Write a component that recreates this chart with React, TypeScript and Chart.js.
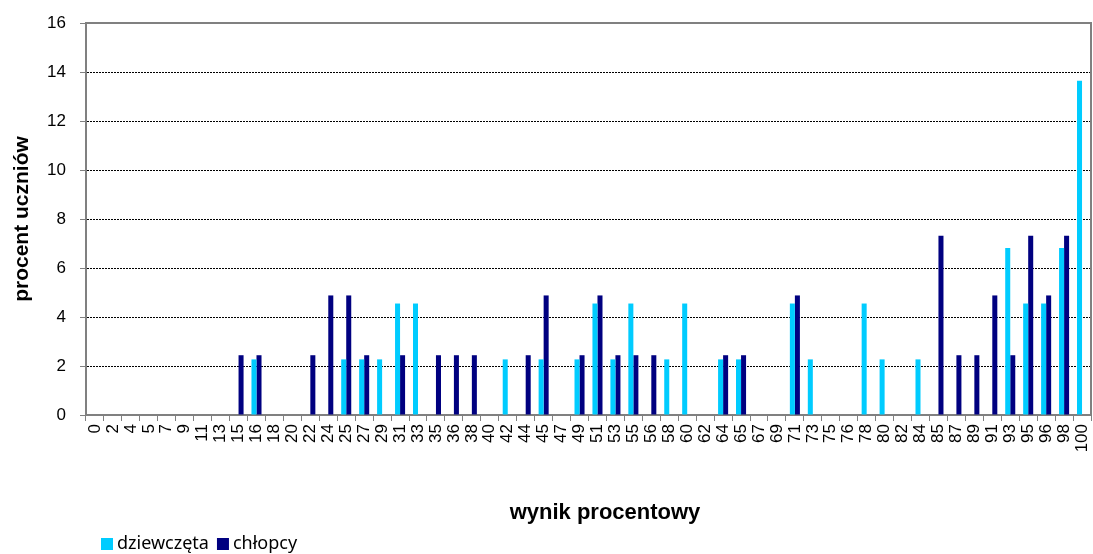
import React, { useEffect, useRef } from "react";
import Chart from "chart.js/auto";

const categories: string[] = [
  "0", "2", "4", "5", "7", "9", "11", "13", "15", "16", "18", "20", "22", "24", "25", "27", "29", "31", "33", "35",
  "36", "38", "40", "42", "44", "45", "47", "49", "51", "53", "55", "56", "58", "60", "62", "64", "65", "67", "69", "71",
  "73", "75", "76", "78", "80", "82", "84", "85", "87", "89", "91", "93", "95", "96", "98", "100",
];

const girls: number[] = [
  0, 0, 0, 0, 0, 0, 0, 0, 0, 2.27, 0, 0, 0, 0, 2.27, 2.27, 2.27, 4.55, 4.55, 0,
  0, 0, 0, 2.27, 0, 2.27, 0, 2.27, 4.55, 2.27, 4.55, 0, 2.27, 4.55, 0, 2.27, 2.27, 0, 0, 4.55,
  2.27, 0, 0, 4.55, 2.27, 0, 2.27, 0, 0, 0, 0, 6.82, 4.55, 4.55, 6.82, 13.64,
];

const boys: number[] = [
  0, 0, 0, 0, 0, 0, 0, 0, 2.44, 2.44, 0, 0, 2.44, 4.88, 4.88, 2.44, 0, 2.44, 0, 2.44,
  2.44, 2.44, 0, 0, 2.44, 4.88, 0, 2.44, 4.88, 2.44, 2.44, 2.44, 0, 0, 0, 2.44, 2.44, 0, 0, 4.88,
  0, 0, 0, 0, 0, 0, 0, 7.32, 2.44, 2.44, 4.88, 2.44, 7.32, 4.88, 7.32, 0,
];

const seriesNames: string[] = ["dziewczęta", "chłopcy"];
const seriesColors: string[] = ["#00CCFF", "#000080"];
const yTitle = "procent uczniów";
const xTitle = "wynik procentowy";

const W = 1093;
const H = 554;

const decorPlugin = {
  id: "decor",
  afterDatasetsDraw(chart: any) {
    const { ctx, chartArea } = chart;
    ctx.save();
    ctx.strokeStyle = "#808080";
    ctx.lineWidth = 2;
    ctx.beginPath();
    ctx.moveTo(chartArea.left, chartArea.top);
    ctx.lineTo(chartArea.right, chartArea.top);
    ctx.lineTo(chartArea.right, chartArea.bottom);
    ctx.stroke();
    ctx.restore();
  },
  afterDraw(chart: any) {
    const { ctx, chartArea } = chart;
    ctx.save();
    ctx.fillStyle = "#000";
    ctx.textAlign = "center";
    ctx.textBaseline = "middle";
    // y title
    ctx.font = "bold 21px 'Liberation Sans', Arial, sans-serif";
    ctx.save();
    ctx.translate(22, (chartArea.top + chartArea.bottom) / 2);
    ctx.rotate(-Math.PI / 2);
    ctx.fillText(yTitle, 0, 0);
    ctx.restore();
    // x title
    ctx.font = "bold 22px 'Liberation Sans', Arial, sans-serif";
    ctx.fillText(xTitle, 605, 513);
    // legend
    ctx.font = "18px 'Noto Sans', sans-serif";
    ctx.textAlign = "left";
    let x = 101;
    const y = 538;
    chart.data.datasets.forEach((ds: any) => {
      ctx.fillStyle = ds.backgroundColor;
      ctx.fillRect(x, y, 12, 12);
      ctx.fillStyle = "#000";
      ctx.fillText(ds.label, x + 16, y + 6);
      x += 16 + ctx.measureText(ds.label).width + 8;
    });
    ctx.restore();
  },
};

export default function App() {
  const ref = useRef<HTMLCanvasElement | null>(null);
  useEffect(() => {
    if (!ref.current) return;
    const chart = new Chart(ref.current, {
      type: "bar",
      data: {
        labels: categories,
        datasets: [
          { label: seriesNames[0], data: girls, backgroundColor: seriesColors[0], borderWidth: 0 },
          { label: seriesNames[1], data: boys, backgroundColor: seriesColors[1], borderWidth: 0 },
        ],
      },
      options: {
        responsive: true,
        maintainAspectRatio: false,
        animation: false,
        layout: { padding: { top: 23, right: 2, left: 0, bottom: 0 } },
        datasets: { bar: { categoryPercentage: 0.56, barPercentage: 1 } },
        plugins: { legend: { display: false }, tooltip: { enabled: false } },
        scales: {
          x: {
            grid: {
              offset: true,
              drawOnChartArea: false,
              drawTicks: true,
              tickLength: 6,
              tickColor: "#808080",
              tickWidth: 1,
            },
            border: { display: true, color: "#808080", width: 2 },
            ticks: {
              autoSkip: false,
              maxRotation: 90,
              minRotation: 90,
              padding: 3,
              color: "#000",
              font: { family: "'Liberation Sans', Arial, sans-serif", size: 17 },
            },
            afterFit(scale: any) {
              scale.height = 139;
              scale.paddingLeft = 0;
              scale.paddingRight = 0;
            },
          },
          y: {
            min: 0,
            max: 16,
            grid: {
              color: (c: any) => (c.tick && (c.tick.value === 0 || c.tick.value === 16) ? "rgba(0,0,0,0)" : "#000"),
              lineWidth: 1,
              drawTicks: true,
              tickLength: 6,
              tickColor: "#808080",
              tickWidth: 1,
              tickBorderDash: [],
            },
            border: { display: true, color: "#808080", width: 2, dash: [2, 1] },
            ticks: {
              stepSize: 2,
              padding: 14,
              color: "#000",
              font: { family: "'Liberation Sans', Arial, sans-serif", size: 17 },
            },
            afterFit(scale: any) {
              scale.width = 86;
              scale.paddingTop = 0;
              scale.paddingBottom = 0;
            },
          },
        },
      },
      plugins: [decorPlugin],
    });
    return () => chart.destroy();
  }, []);
  return (
    <div style={{ position: "absolute", left: 0, top: 0, width: W, height: H, background: "#fff" }}>
      <canvas ref={ref} />
    </div>
  );
}
